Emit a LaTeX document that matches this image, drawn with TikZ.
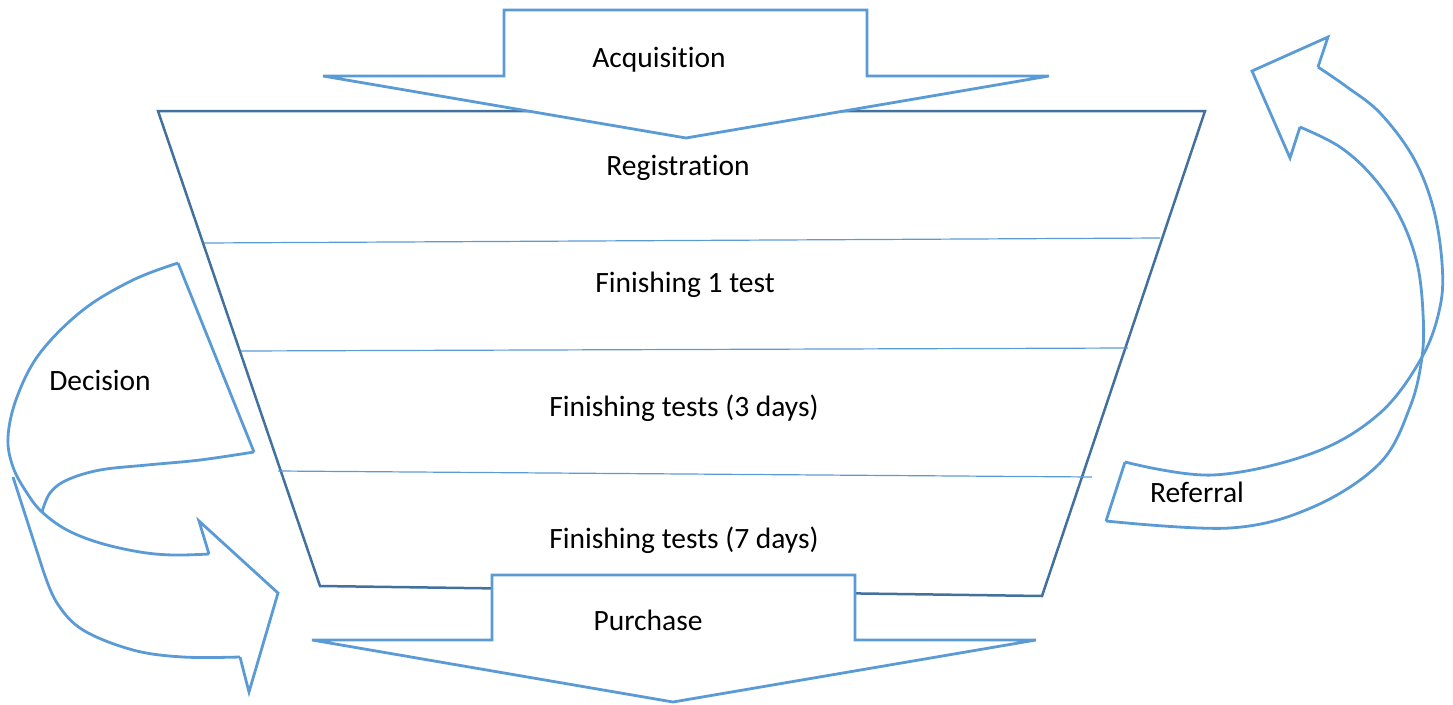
\documentclass[tikz,border=0pt]{standalone}
\usepackage{fontspec}
\setmainfont{Carlito}[Ligatures=NoCommon]
\definecolor{arrowblue}{HTML}{5B9BD5}
\definecolor{funnelblue}{HTML}{41719C}
\begin{document}
\begin{tikzpicture}[x=1pt,y=-1pt,
  arrowline/.style={draw=arrowblue, line width=2.8pt, line join=miter},
  blockarrow/.style={arrowline, fill=white},
  funneledge/.style={draw=funnelblue, line width=2.5pt, line join=miter},
  stageline/.style={draw=arrowblue, line width=1.2pt},
  lbl/.style={font=\fontsize{29.5}{35}\selectfont, text=black, inner sep=0pt}]
\useasboundingbox (0,0) rectangle (1453,704);
% funnel
\coordinate (ftl) at (158,111);
\coordinate (ftr) at (1205,111);
\coordinate (fbr) at (1042,596);
\coordinate (fbl) at (320,586);
\draw[funneledge] (ftl) -- (ftr) -- (fbr) -- (fbl) -- cycle;
% stage separators
\coordinate (s1l) at (204,243); \coordinate (s1r) at (1160,238);
\coordinate (s2l) at (241,351); \coordinate (s2r) at (1128,348);
\coordinate (s3l) at (278,471); \coordinate (s3r) at (1092,477);
\draw[stageline] (s1l) -- (s1r);
\draw[stageline] (s2l) -- (s2r);
\draw[stageline] (s3l) -- (s3r);
% acquisition arrow
\draw[blockarrow] (504,10) -- (867,10) -- (867,76) -- (1049,76) -- (686,138) -- (323,76) -- (504,76) -- cycle;
% purchase arrow
\draw[blockarrow] (492,575) -- (855,575) -- (855,640) -- (1036,640) -- (673,702) -- (312,640) -- (492,640) -- cycle;
% decision arrow (left)
\draw[arrowline] plot[smooth, tension=0.6] coordinates {(178,263) (133,280) (83,310) (40,353) (17,397) (8,437) (13,467) (27,493) (42,512) (67,530) (100,543) (140,552) (173,555) (209,554)};
\draw[arrowline] plot[smooth, tension=0.6] coordinates {(254,452) (200,460) (147,465) (100,470) (67,480) (50,493) (42,512)};
\draw[arrowline] (13,477) -- (43,570) plot[smooth, tension=0.6] coordinates {(43,570) (57,603) (83,630) (133,650) (183,657) (240,657)};
\draw[arrowline] (240,657) -- (249,692) -- (278,593) -- (199,521) -- (209,554);
\draw[arrowline] (178,263) -- (254,452);
% referral arrow (right)
\draw[arrowline] (1125,462) -- (1106,521);
\draw[arrowline] plot[smooth, tension=0.6] coordinates {(1125,462) (1213,475) (1313,453) (1380,413) (1422,357) (1440,307) (1442,263) (1433,207) (1413,157) (1380,113) (1347,87) (1318,67)};
\draw[arrowline] plot[smooth, tension=0.6] coordinates {(1106,521) (1230,528) (1313,507) (1380,463) (1410,407) (1422,357) (1423,313) (1417,263) (1400,217) (1373,177) (1340,147) (1300,127)};
\draw[arrowline] (1300,127) -- (1290,158) -- (1252,71) -- (1328,37) -- (1318,67);
% labels
\node[lbl] (acq) at (659,60) {Acquisition};
\node[lbl] (reg) at (678,168) {Registration};
\node[lbl] (f1) at (685,285) {Finishing 1 test};
\node[lbl] (f3) at (684,408) {Finishing tests (3 days)};
\node[lbl] (f7) at (684,540) {Finishing tests (7 days)};
\node[lbl] (pur) at (648,620) {Purchase};
\node[lbl] (dec) at (100,380) {Decision};
\node[lbl] (ref) at (1197,492) {Referral};
\end{tikzpicture}
\end{document}
